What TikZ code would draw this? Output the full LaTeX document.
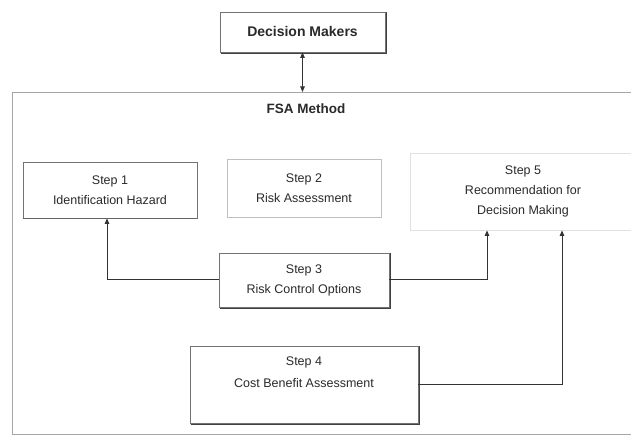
\documentclass[tikz,border=0pt]{standalone}
\usepackage{fontspec}
\setmainfont{Liberation Sans}
\usetikzlibrary{arrows.meta}
\definecolor{txt}{HTML}{2A2A2A}
\begin{document}
\begin{tikzpicture}[x=1pt,y=-1pt,
  box/.style={draw=#1,fill=white,rectangle,align=center,text=txt,inner sep=0pt,line width=0.8pt},
  box/.default={black!55},
  shadline/.style={draw=black!75,line width=1.6pt},
  steptext/.style={font=\fontsize{12.5}{20}\selectfont},
  conn/.style={draw=black!80,line width=1pt,-{Triangle[length=5.5pt,width=4.5pt]}}]
\useasboundingbox (0,0) rectangle (631,435);
\fill[white] (0,0) rectangle (631,435);
% outer FSA frame
\coordinate (ftop) at (302.5,92);
\draw[black!35,line width=0.8pt] (660,92) -- (12,92) -- (12,434) -- (660,434);
\node[font=\bfseries\fontsize{13.5}{16}\selectfont,text=txt] (fsa) at (306,109) {FSA Method};
% nodes
\node[box,minimum width=165,minimum height=40,font=\bfseries\fontsize{14}{16}\selectfont] (dm) at (302.5,32) {Decision Makers};
\node[box,steptext,minimum width=174,minimum height=56] (s1) at (110,190) {Step 1\\Identification Hazard};
\node[box=black!25,steptext,minimum width=154,minimum height=58] (s2) at (304,188) {Step 2\\Risk Assessment};
\node[box=black!12,steptext,minimum width=226,minimum height=77] (s5) at (523,191.5) {Step 5\\Recommendation for\\Decision Making};
\node[box,steptext,minimum width=170,minimum height=54] (s3) at (304,280) {Step 3\\Risk Control Options};
\node[box,minimum width=228,minimum height=77,font=\fontsize{12.5}{22}\selectfont] (s4) at (304,384.5) {Step 4\\Cost Benefit Assessment\\[2pt]};
% shadows (bottom and right edges)
\foreach \n in {dm,s3,s4}{
  \draw[shadline] ([xshift=1pt,yshift=-1pt]\n.south west) -- ([xshift=1pt,yshift=-1pt]\n.south east) -- ([xshift=1pt]\n.north east);
}
\draw[black!60,line width=1.2pt] ([yshift=-0.5pt]s1.south west) -- ([yshift=-0.5pt]s1.south east);
% connectors
\draw[draw=black!80,line width=1pt,{Triangle[length=5.5pt,width=4.5pt]}-{Triangle[length=5.5pt,width=4.5pt]}] (dm.south) -- (ftop);
\draw[conn] (s3.west) -| ([xshift=-3]s1.south);
\draw[conn] (s3.east) -| ([xshift=-36]s5.south);
\draw[conn] (s4.east) -| ([xshift=39]s5.south);
\end{tikzpicture}
\end{document}
